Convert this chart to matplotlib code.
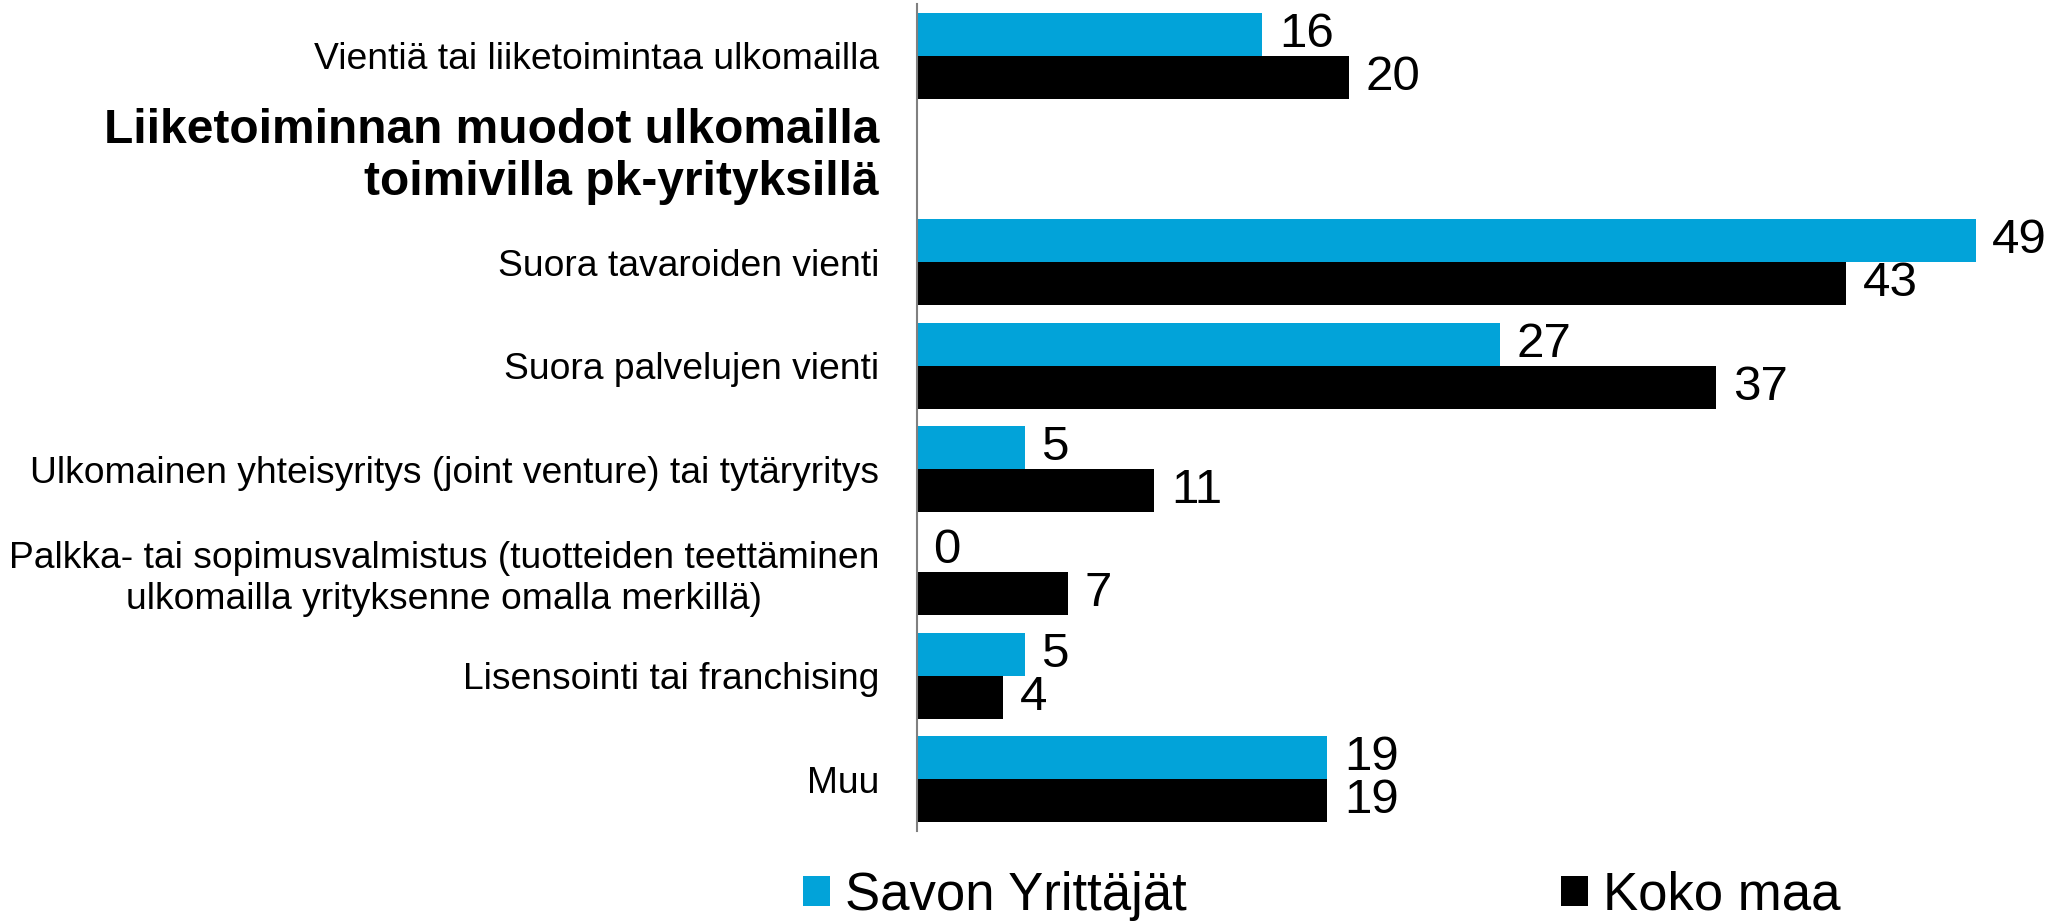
import matplotlib
matplotlib.use("Agg")
import matplotlib.pyplot as plt
import matplotlib.transforms as mtransforms
import numpy as np

plt.rcParams["font.family"] = ["Liberation Sans", "DejaVu Sans"]

categories = [
    "Vientiä tai liiketoimintaa ulkomailla",
    "Suora tavaroiden vienti",
    "Suora palvelujen vienti",
    "Ulkomainen yhteisyritys (joint venture) tai tytäryritys",
    "Palkka- tai sopimusvalmistus (tuotteiden teettäminen\nulkomailla yrityksenne omalla merkillä)",
    "Lisensointi tai franchising",
    "Muu",
]
title = "Liiketoiminnan muodot ulkomailla\ntoimivilla pk-yrityksillä"
savo = [16, 49, 27, 5, 0, 5, 19]
koko = [20, 43, 37, 11, 7, 4, 19]
series_names = ["Savon Yrittäjät", "Koko maa"]

BLUE = "#02A3D9"
BLACK = "#000000"

# first row, then an empty slot for the heading, then the rest
slots = np.array([0] + list(range(2, len(categories) + 1)))
h = 0.415

fig = plt.figure(figsize=(20.6, 9.23), dpi=100)
ax = fig.add_axes([916.5 / 2060, 1 - 830.7 / 923, 1 - 916.5 / 2060, 826.7 / 923])

b1 = ax.barh(slots - h / 2, savo, height=h, color=BLUE, label=series_names[0])
b2 = ax.barh(slots + h / 2, koko, height=h, color=BLACK, label=series_names[1])
ax.bar_label(b1, padding=12, fontsize=35.5)
ax.bar_label(b2, padding=12, fontsize=35.5)

ax.set_ylim(len(categories) + 0.5, -0.5)
ax.set_xlim(0, 52.9)

ticks = [0, 1] + list(slots[1:])
labels = [categories[0], title] + categories[1:]
ax.set_yticks(ticks)
ax.set_yticklabels(labels)
ax.tick_params(axis="y", length=0, pad=27, labelsize=26.8)
for i, t in enumerate(ax.get_yticklabels()):
    if i == 1:
        # heading sits in the empty slot, nudged up a little
        t.set_fontweight("bold")
        t.set_fontsize(34.5)
        t.set_multialignment("right")
        t.set_transform(t.get_transform() + mtransforms.ScaledTranslation(0, 0.11, fig.dpi_scale_trans))
    else:
        t.set_multialignment("center")

ax.set_xticks([])
for s in ["top", "right", "bottom"]:
    ax.spines[s].set_visible(False)
ax.spines["left"].set_color("#808080")
ax.spines["left"].set_linewidth(1.5)

fig.legend(handles=[b1, b2], labels=series_names, loc="center",
           bbox_to_anchor=(1322 / 2060, 1 - 896 / 923), ncol=2, frameon=False,
           fontsize=38, handlelength=0.51, handleheight=0.51,
           handletextpad=0.28, columnspacing=7.1, borderpad=0)

fig.savefig("out.png", dpi=100)
